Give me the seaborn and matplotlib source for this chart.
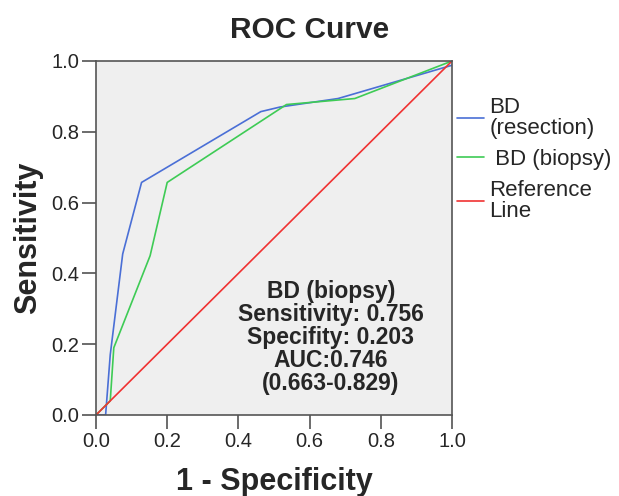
import matplotlib as mpl

mpl.use('Agg')
import matplotlib.pyplot as plt
import seaborn as sns
import pandas as pd

# ROC points (1 - specificity, sensitivity)
resection_fpr = [0.0, 0.027, 0.04, 0.075, 0.128, 0.463, 0.517, 0.68, 1.0]
resection_tpr = [0.0, 0.0, 0.17, 0.455, 0.657, 0.857, 0.87, 0.894, 0.988]
biopsy_fpr = [0.0, 0.04, 0.05, 0.152, 0.2, 0.535, 0.727, 1.0]
biopsy_tpr = [0.0, 0.04, 0.19, 0.45, 0.657, 0.877, 0.894, 1.0]
ref_fpr = [0.0, 1.0]
ref_tpr = [0.0, 1.0]

series_names = ['BD\n(resection)', ' BD (biopsy)', 'Reference\nLine']
series_colors = ['#4a6fd6', '#3ecb55', '#f03232']
ticks = [0.0, 0.2, 0.4, 0.6, 0.8, 1.0]
note_lines = ['BD (biopsy)', 'Sensitivity: 0.756', 'Specifity: 0.203',
              'AUC:0.746', '(0.663-0.829)']

df = pd.concat([
    pd.DataFrame({'fpr': resection_fpr, 'tpr': resection_tpr, 'curve': series_names[0]}),
    pd.DataFrame({'fpr': biopsy_fpr, 'tpr': biopsy_tpr, 'curve': series_names[1]}),
    pd.DataFrame({'fpr': ref_fpr, 'tpr': ref_tpr, 'curve': series_names[2]}),
], ignore_index=True)

sns.set_style('ticks')
plt.rcParams['font.family'] = ['Liberation Sans', 'DejaVu Sans']

fig = plt.figure(figsize=(6.19, 4.96), dpi=100)
ax = fig.add_axes([96 / 619, 81 / 496, 356 / 619, 354 / 496])
ax.set_facecolor('#efefef')

sns.lineplot(data=df, x='fpr', y='tpr', hue='curve',
             palette=dict(zip(series_names, series_colors)),
             sort=False, estimator=None, linewidth=1.2, ax=ax)

ax.set_xlim(0, 1)
ax.set_ylim(0, 1)
ax.set_xticks(ticks)
ax.set_yticks(ticks)
ax.set_xticklabels([f'{t:.1f}' for t in ticks])
ax.set_yticklabels([f'{t:.1f}' for t in ticks])
ax.tick_params(axis='both', labelsize=14.5, length=10, width=1.1,
               color='#444444', pad=2)

for side in ['left', 'right', 'top', 'bottom']:
    ax.spines[side].set_color('#555555')
    ax.spines[side].set_linewidth(1.2)

ax.set_xlabel('1 - Specificity', fontsize=22, fontweight='bold')
ax.set_ylabel('Sensitivity', fontsize=22, fontweight='bold')
ax.xaxis.set_label_coords(0.5, -0.19)
ax.yaxis.set_label_coords(-0.19, 0.5)
ax.xaxis.label.set_va('center')
ax.yaxis.label.set_va('center')

fig.suptitle('ROC Curve', x=0.5, y=1 - 30 / 496, va='center',
             fontsize=21.5, fontweight='bold')

# summary text for the biopsy curve
ax.text(0.66, 0.22, '\n'.join(note_lines), ha='center', va='center',
        fontsize=16.5, fontweight='bold', linespacing=1.0)

# legend outside on the right
handles, labels = ax.get_legend_handles_labels()
ax.get_legend().remove()
leg = fig.legend(handles, labels, loc='upper left',
                 bbox_to_anchor=(457 / 619, 1 - 97 / 496),
                 frameon=False, fontsize=16, borderpad=0, borderaxespad=0,
                 handlelength=1.2, handletextpad=0.25, labelspacing=0.45)
for t in leg.get_texts():
    t.set_linespacing(1.0)

plt.savefig('out.png', dpi=100)
